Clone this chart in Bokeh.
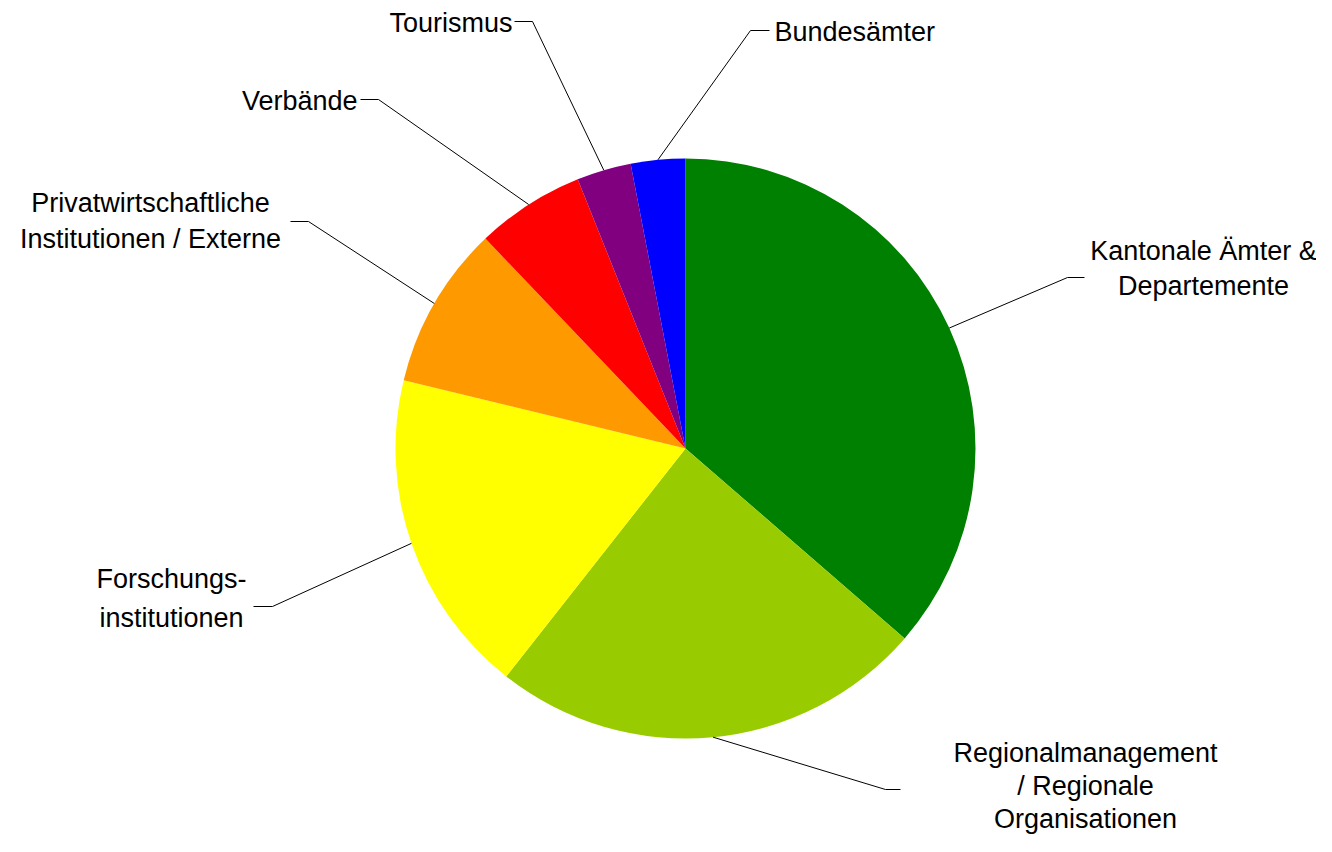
import math
from bokeh.plotting import figure
from bokeh.models import Range1d, ColumnDataSource
from bokeh.core.properties import value
from bokeh.embed import file_html
from bokeh.resources import INLINE

# ---- data ----
categories = [
    "Kantonale Ämter &\nDepartemente",
    "Regionalmanagement\n/ Regionale\nOrganisationen",
    "Forschungs-\ninstitutionen",
    "Privatwirtschaftliche\nInstitutionen / Externe",
    "Verbände",
    "Tourismus",
    "Bundesämter",
]
counts = [12, 8, 6, 3, 2, 1, 1]
colors = ["#008000", "#99CC00", "#FFFF00", "#FF9900", "#FF0000", "#800080", "#0000FF"]

# ---- layout (image pixel coords, y downward) ----
W, H = 1316, 836
CX, CY, R = 685, 448, 290
FONT_PX = 27
TEXT_DY = -10
# label anchor x, first baseline y, line gap, align, elbow point, horizontal end point
label_layout = [
    (1203, 260, 35, "center", (1067, 277), (1084, 277)),
    (1085, 762, 33, "center", (885, 789), (900, 789)),
    (171, 588, 39, "center", (272, 606), (253, 606)),
    (150, 212, 36, "center", (308, 221), (290, 221)),
    (357, 110, 0, "right", (378, 99), (360, 99)),
    (512, 32, 0, "right", (532, 21), (514, 21)),
    (774, 41, 0, "left", (750, 30), (769, 30)),
]

def fy(y):
    return H - y

total = float(sum(counts))
starts, ends, mids = [], [], []
cum = 0.0
for c in counts:
    a0 = cum / total * 2 * math.pi
    cum += c
    a1 = cum / total * 2 * math.pi
    starts.append(math.pi / 2 - a0)
    ends.append(math.pi / 2 - a1)
    mids.append((a0 + a1) / 2)

p = figure(width=W, height=H, output_backend="svg", toolbar_location=None,
           x_range=Range1d(0, W), y_range=Range1d(0, H),
           min_border=0, outline_line_color=None)
p.axis.visible = False
p.grid.visible = False
p.background_fill_color = "white"
p.border_fill_color = "white"

src = ColumnDataSource(dict(start=starts, end=ends, color=colors))
p.wedge(x=CX, y=fy(CY), radius=R, start_angle="start", end_angle="end",
        direction="clock", fill_color="color", line_color=None, source=src)

# leader lines
xs, ys = [], []
for m, lay in zip(mids, label_layout):
    ex = CX + R * math.sin(m)
    ey = CY - R * math.cos(m)
    el, he = lay[4], lay[5]
    xs.append([ex, el[0], he[0]])
    ys.append([fy(ey), fy(el[1]), fy(he[1])])
p.multi_line(xs=xs, ys=ys, line_color="#000000", line_width=1)

# labels (one text per line)
tx, ty, tt, ta = [], [], [], []
for txt, lay in zip(categories, label_layout):
    x0, y0, gap, align = lay[0], lay[1], lay[2], lay[3]
    for i, line in enumerate(txt.split("\n")):
        tx.append(x0)
        ty.append(fy(y0 + i * gap + TEXT_DY))
        tt.append(line)
        ta.append(align)
for align in ("left", "center", "right"):
    idx = [i for i, a in enumerate(ta) if a == align]
    if not idx:
        continue
    p.text(x=[tx[i] for i in idx], y=[ty[i] for i in idx], text=[tt[i] for i in idx],
           text_align=align, text_baseline="alphabetic",
           text_font=value("Liberation Sans"), text_font_size=f"{FONT_PX}px",
           text_color="#000000")

open("out.html", "w").write(file_html(p, INLINE))
